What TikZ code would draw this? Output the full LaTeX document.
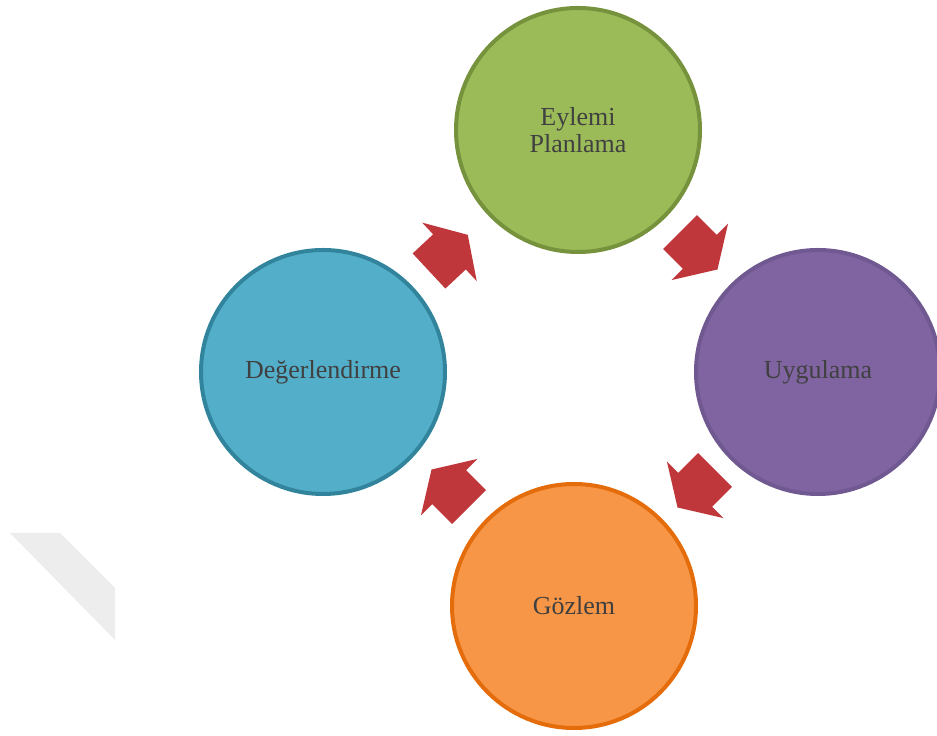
\documentclass[tikz,border=0pt]{standalone}
\usepackage{fontspec}
\setmainfont{Liberation Serif}
\usepackage{tikz}
\usetikzlibrary{positioning}

\definecolor{planfill}{RGB}{155,187,89}
\definecolor{planline}{RGB}{118,146,60}
\definecolor{uygfill}{RGB}{128,100,162}
\definecolor{uygline}{RGB}{112,88,145}
\definecolor{gozfill}{RGB}{247,150,70}
\definecolor{gozline}{RGB}{228,108,10}
\definecolor{degfill}{RGB}{83,174,202}
\definecolor{degline}{RGB}{49,132,155}
\definecolor{arrowred}{RGB}{192,55,59}
\definecolor{labeltext}{RGB}{64,64,64}

\tikzstyle{stage} = [circle,line width=4pt,minimum size=244pt,inner sep=0pt,align=center,
  text=labeltext,font=\fontsize{26}{27}\selectfont]
\tikzset{cyclearrow/.pic={
  \fill[arrowred] (0,-24) -- (28,-24) -- (28,-40) -- (53,0) -- (28,40) -- (28,24) -- (0,24) -- cycle;
}}

\begin{document}
\begin{tikzpicture}[x=1pt,y=1pt]
	\useasboundingbox (0,0) rectangle (937,736);
	%faint mark
	\fill[black!7] (10,203) -- (60,203) -- (115,148) -- (115,96) -- cycle;
	
	%Stages
	\node[stage,draw=planline,fill=planfill] (plan) at (578,606) {Eylemi\\Planlama};
	\node[stage,draw=uygline,fill=uygfill] (uyg) at (818,364) {Uygulama};
	\node[stage,draw=gozline,fill=gozfill] (goz) at (574,130) {Gözlem};
	\node[stage,draw=degline,fill=degfill] (deg) at (323,364) {Değerlendirme};
	
	%Arrows
	\pic[rotate=43] at (429,465) {cyclearrow};
	\pic[rotate=-45] at (680,504) {cyclearrow};
	\pic[rotate=-135] at (715,266) {cyclearrow};
	\pic[rotate=135] at (469,229) {cyclearrow};
\end{tikzpicture}
\end{document}
